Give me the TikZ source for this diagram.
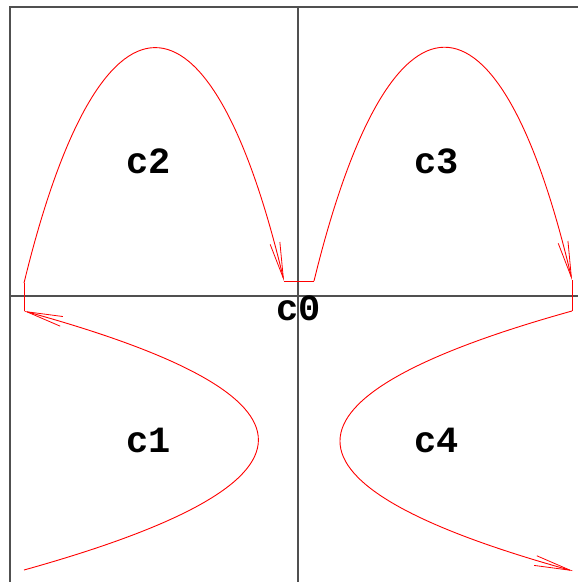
\documentclass[tikz,border=0pt]{standalone}
\usepackage{xcolor}
\usepackage{fontspec}
\usetikzlibrary{arrows.meta}
\newfontfamily\labelfont{Liberation Mono}
\definecolor{axisgray}{HTML}{505050}
\definecolor{pathred}{HTML}{FF0000}

\begin{document}
\begin{tikzpicture}[x=1pt, y=-1pt,
    axis/.style={draw=axisgray, line width=1.3pt},
    branch/.style={draw=pathred, line width=0.9pt},
    flow/.style={branch, -{Straight Barb[length=36pt, width=10pt, line width=0.8pt]}},
    region/.style={font=\labelfont\bfseries\fontsize{37}{37}\selectfont, inner sep=0pt}]
  \useasboundingbox (0,0) rectangle (578,582);
  % frame and axes
  \draw[axis] (10,582) -- (10,7) -- (578,7);
  \draw[axis] (10,296) -- (578,296);
  \draw[axis] (298,7) -- (298,582);
  % end points of the pieces
  \coordinate (l-top) at (24,283);
  \coordinate (l-bot) at (24,311);
  \coordinate (l-end) at (24,570);
  \coordinate (m-left) at (284,281);
  \coordinate (m-right) at (314,281);
  \coordinate (r-top) at (572,280);
  \coordinate (r-bot) at (572,311);
  \coordinate (r-end) at (573,571);
  % the curves
  \draw[flow] (l-top) .. controls (100,-30) and (210,-30) .. (m-left);
  \draw[branch] (m-left) -- (m-right);
  \draw[flow] (m-right) .. controls (390,-30) and (499,-30) .. (r-top);
  \draw[branch] (r-top) -- (r-bot);
  \draw[flow] (r-bot) .. controls (263,397) and (263,485) .. (r-end);
  \draw[branch] (l-top) -- (l-bot);
  \draw[flow] (l-end) .. controls (336,483) and (336,397) .. (l-bot);
  % labels
  \node[region] (c2) at (149,161) {c2};
  \node[region] (c3) at (437,161) {c3};
  \node[region] (c1) at (149,440) {c1};
  \node[region] (c4) at (437,440) {c4};
  \node[region] (c0) at (299,308) {c0};
\end{tikzpicture}
\end{document}
